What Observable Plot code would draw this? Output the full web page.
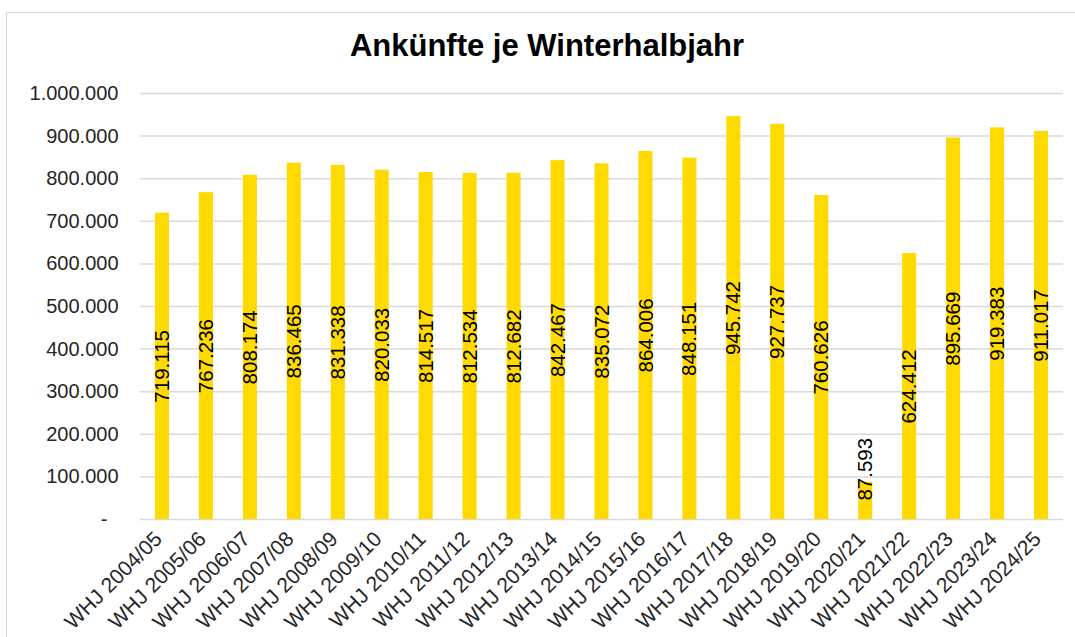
<!DOCTYPE html>
<html>
<head>
<meta charset="utf-8">
<script src="https://cdn.jsdelivr.net/npm/d3@7"></script>
<script src="https://cdn.jsdelivr.net/npm/@observablehq/plot@0.6"></script>
<style>
  html, body { margin: 0; padding: 0; background: #fff; overflow: hidden; }
  #page { position: relative; width: 1075px; height: 637px; font-family: "Liberation Sans", Arial, sans-serif; }
  #frame { position: absolute; left: 6px; top: 12px; width: 1085px; height: 640px; border: 1.5px solid #d9d9d9; box-sizing: border-box; }
  #title { position: absolute; left: 7px; width: 1080px; top: 28px; text-align: center; font-weight: bold; font-size: 31px; line-height: 36px; color: #000; }
  #chart { position: absolute; left: 0; top: 80px; }
</style>
</head>
<body>
<div id="page">
  <div id="frame"></div>
  <div id="title">Ankünfte je Winterhalbjahr</div>
  <div id="chart"></div>
</div>
<script>
const categories = ["WHJ 2004/05","WHJ 2005/06","WHJ 2006/07","WHJ 2007/08","WHJ 2008/09","WHJ 2009/10","WHJ 2010/11","WHJ 2011/12","WHJ 2012/13","WHJ 2013/14","WHJ 2014/15","WHJ 2015/16","WHJ 2016/17","WHJ 2017/18","WHJ 2018/19","WHJ 2019/20","WHJ 2020/21","WHJ 2021/22","WHJ 2022/23","WHJ 2023/24","WHJ 2024/25"];
const arrivals = [719115, 767236, 808174, 836465, 831338, 820033, 814517, 812534, 812682, 842467, 835072, 864006, 848151, 945742, 927737, 760626, 87593, 624412, 895669, 919383, 911017];
const yTicks = [0, 100000, 200000, 300000, 400000, 500000, 600000, 700000, 800000, 900000, 1000000];

const data = categories.map((c, i) => ({cat: c, value: arrivals[i]}));
const fmt = v => d3.format(",")(v).replace(/,/g, ".");
const yFmt = v => v === 0 ? "-\u00a0\u00a0" : fmt(v);

const chart = Plot.plot({
  width: 1075,
  height: 557,
  marginLeft: 140,
  marginRight: 12,
  marginTop: 13,
  marginBottom: 118,
  style: {fontFamily: "'Liberation Sans', Arial, sans-serif", fontSize: "20px", color: "#262626", background: "transparent", overflow: "visible"},
  x: {domain: categories, paddingInner: 0.68, paddingOuter: 0.34, round: false, label: null},
  y: {domain: [0, 1000000], label: null},
  marks: [
    Plot.gridY(yTicks, {stroke: "#d9d9d9", strokeOpacity: 1, strokeWidth: 1.5}),
    Plot.barY(data, {x: "cat", y: "value", fill: "#FFDA00"}),
    Plot.text(data, {
      x: "cat",
      y: d => Math.max(d.value / 2, 118000),
      text: d => fmt(d.value),
      rotate: -90,
      fontSize: 20.5,
      fill: "#000",
      textAnchor: "middle"
    }),
    Plot.axisY(yTicks, {tickFormat: yFmt, tickSize: 0, tickPadding: 22, fontSize: 20, label: null}),
    Plot.axisX({tickRotate: -45, tickSize: 0, tickPadding: 16, dx: -4, fontSize: 21, label: null})
  ]
});
document.getElementById("chart").appendChild(chart);
</script>
</body>
</html>
